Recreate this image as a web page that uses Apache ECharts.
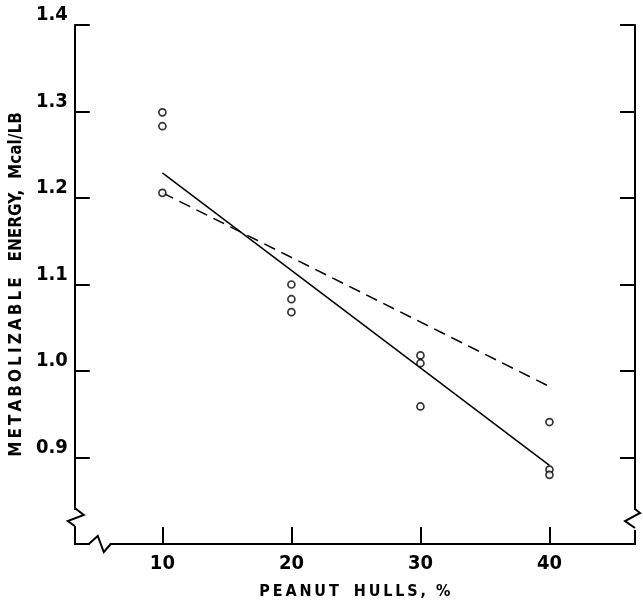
<!DOCTYPE html>
<html>
<head>
<meta charset="utf-8">
<script src="https://cdn.jsdelivr.net/npm/echarts@6/dist/echarts.min.js"></script>
<style>
  html, body { margin: 0; padding: 0; background: #fff; }
  #chart { width: 643px; height: 606px; }
</style>
</head>
<body>
<div id="chart"></div>
<script>
// observed points
var hulls = [10, 10, 10, 20, 20, 20, 30, 30, 30, 40, 40, 40];
var energy = [1.299, 1.283, 1.206, 1.100, 1.083, 1.068, 1.018, 1.009, 0.959, 0.941, 0.886, 0.880];
// fitted lines, ends at 10 and 40 %
var fitX = [10, 40];
var solidFit = [1.229, 0.891];
var dashedFit = [1.206, 0.982];
// ticks
var xTicks = [10, 20, 30, 40];
var yTicks = [0.9, 1.0, 1.1, 1.2, 1.3, 1.4];

var X_MIN = 3.21, X_MAX = 46.63, Y_MIN = 0.8, Y_MAX = 1.4;
var FONT = "'DejaVu Sans Condensed', 'DejaVu Sans', sans-serif";

// spread letters with thin spaces, like the lettering on the original
function spaced(s) {
  return s.split("").join("\u2009");
}

function pairs(xs, ys) {
  return xs.map(function (x, i) { return [x, ys[i]]; });
}

var chart = echarts.init(document.getElementById("chart"));

var yBase = {
  type: "value",
  min: Y_MIN,
  max: Y_MAX,
  splitLine: { show: false },
  axisLine: { show: true, onZero: false, lineStyle: { color: "#000", width: 2 } },
  axisTick: { show: true, inside: true, length: 15, customValues: yTicks, lineStyle: { color: "#000", width: 2 } }
};

var option = {
  animation: false,
  backgroundColor: "#fff",
  grid: { left: 74, right: 8, top: 25, bottom: 62 },
  xAxis: {
    type: "value",
    min: X_MIN,
    max: X_MAX,
    name: spaced("PEANUT") + "   " + spaced("HULLS,") + "  %",
    nameLocation: "middle",
    nameGap: 40,
    nameTextStyle: { fontFamily: FONT, fontWeight: "bold", fontSize: 16, color: "#000" },
    splitLine: { show: false },
    axisLine: { show: true, onZero: false, lineStyle: { color: "#000", width: 2 } },
    axisTick: { show: true, inside: true, length: 17, customValues: xTicks, lineStyle: { color: "#000", width: 2 } },
    axisLabel: {
      customValues: xTicks,
      margin: 10,
      fontFamily: FONT, fontWeight: "bold", fontSize: 20, color: "#000"
    }
  },
  yAxis: [
    Object.assign({}, yBase, {
      position: "left",
      name: spaced("METABOLIZABLE") + "   ENERGY,  Mcal/LB",
      nameLocation: "middle",
      nameRotate: 90,
      nameGap: 37,
      nameTextStyle: { fontFamily: FONT, fontWeight: "bold", fontSize: 17, color: "#000" },
      axisLabel: {
        customValues: yTicks,
        margin: 7,
        verticalAlign: "bottom",
        formatter: function (v) { return v.toFixed(1); },
        fontFamily: FONT, fontWeight: "bold", fontSize: 20, color: "#000"
      }
    }),
    Object.assign({}, yBase, {
      position: "right",
      axisLabel: { show: false }
    })
  ],
  series: [
    {
      name: "observed",
      type: "scatter",
      data: pairs(hulls, energy),
      symbol: "circle",
      symbolSize: 7,
      itemStyle: { color: "#fff", borderColor: "#000", borderWidth: 1.7 },
      z: 5
    },
    {
      name: "solid",
      type: "line",
      data: pairs(fitX, solidFit),
      symbol: "none",
      lineStyle: { color: "#000", width: 1.5 }
    },
    {
      name: "dashed",
      type: "line",
      data: pairs(fitX, dashedFit),
      symbol: "none",
      lineStyle: { color: "#000", width: 1.5, type: [12, 7] }
    }
  ]
};

chart.setOption(option);

// axis break marks
var bl = chart.convertToPixel({ gridIndex: 0 }, [X_MIN, Y_MIN]);
var br = chart.convertToPixel({ gridIndex: 0 }, [X_MAX, Y_MIN]);
var brk = { stroke: "#000", lineWidth: 2, fill: null };
chart.setOption({
  graphic: [
    { type: "rect", shape: { x: bl[0] - 2, y: bl[1] - 34, width: 4, height: 16 }, style: { fill: "#fff" }, z: 100 },
    { type: "polyline", shape: { points: [[bl[0], bl[1] - 36], [bl[0] + 9, bl[1] - 29], [bl[0] - 7, bl[1] - 23], [bl[0], bl[1] - 18]] }, style: brk, z: 101 },
    { type: "rect", shape: { x: bl[0] + 15, y: bl[1] - 2, width: 20, height: 4 }, style: { fill: "#fff" }, z: 100 },
    { type: "polyline", shape: { points: [[bl[0] + 14, bl[1]], [bl[0] + 23, bl[1] - 8], [bl[0] + 29, bl[1] + 8], [bl[0] + 36, bl[1]]] }, style: brk, z: 101 },
    { type: "rect", shape: { x: br[0] - 2, y: br[1] - 34, width: 4, height: 20 }, style: { fill: "#fff" }, z: 100 },
    { type: "polyline", shape: { points: [[br[0], br[1] - 35], [br[0] + 5, br[1] - 31], [br[0] - 10, br[1] - 23], [br[0], br[1] - 16]] }, style: brk, z: 101 }
  ]
});
</script>
</body>
</html>
